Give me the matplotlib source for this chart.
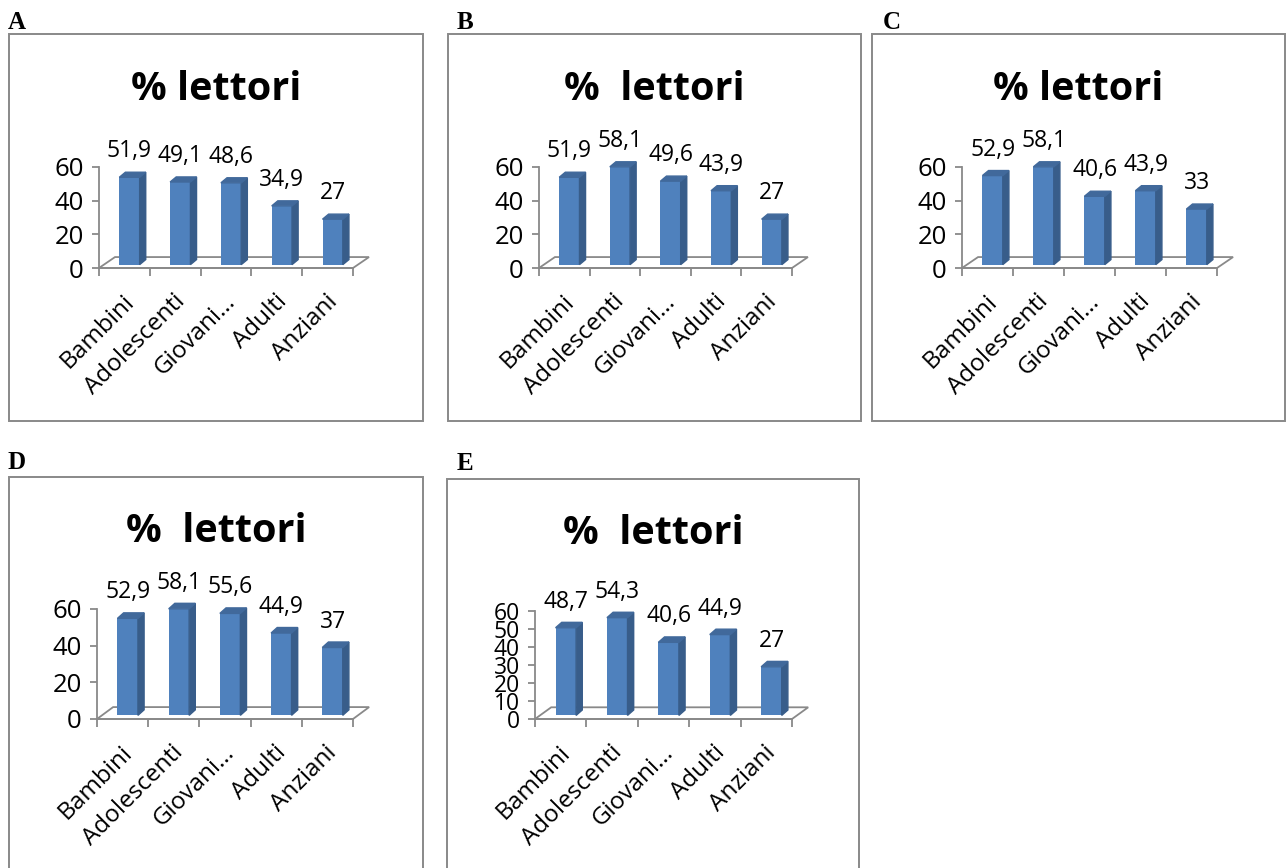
import matplotlib
matplotlib.use("Agg")
import matplotlib.pyplot as plt
from matplotlib.patches import Rectangle, Polygon

W, H = 1287, 868
plt.rcParams['font.family'] = ['Open Sans', 'DejaVu Sans']

# data
categories = ["Bambini", "Adolescenti", "Giovani…", "Adulti", "Anziani"]
vals_a = [51.9, 49.1, 48.6, 34.9, 27]
vals_b = [51.9, 58.1, 49.6, 43.9, 27]
vals_c = [52.9, 58.1, 40.6, 43.9, 33]
vals_d = [52.9, 58.1, 55.6, 44.9, 37]
vals_e = [48.7, 54.3, 40.6, 44.9, 27]
ticks_std = [0, 20, 40, 60]
ticks_e = [0, 10, 20, 30, 40, 50, 60]
panel_letters = ["A", "B", "C", "D", "E"]
titles = ["% lettori", "%  lettori", "% lettori", "%  lettori", "%  lettori"]

# layout in pixels: box (x0, y0, x1, y1), plot (left, right, y60, y0), title baseline, letter pos
layout = [
    ((9, 34, 423, 421), (99, 353, 167, 268), 100, (8, 29)),
    ((448, 34, 861, 421), (539, 792, 167, 268), 100, (457, 29)),
    ((872, 34, 1285, 421), (962, 1217, 167, 268), 100, (883, 29)),
    ((9, 477, 423, 900), (97, 353, 609, 719), 542, (8, 469)),
    ((447, 479, 859, 900), (535, 792, 611, 719), 544, (457, 470)),
]
values = [vals_a, vals_b, vals_c, vals_d, vals_e]
yticks = [ticks_std, ticks_std, ticks_std, ticks_std, ticks_e]
ytick_size = [18.5, 18.5, 18.5, 18.5, 16.5]

gray = '#898989'
front = '#4F81BD'
side = '#385D8A'
top = '#41699B'
dx, dy = 0.315, 6.5      # floor depth
lift = 2.0               # bars stand a bit behind the front edge
sx, sy = 0.12, 3.0       # bar depth

fig = plt.figure(figsize=(W / 100, H / 100), dpi=100)

for k, (letter, title, vals, yt) in enumerate(zip(panel_letters, titles, values, yticks)):
    box, plot, ty, lpos = layout[k]
    x0, y0, x1, y1 = box
    fig.add_artist(Rectangle((x0 / W, 1 - y1 / H), (x1 - x0) / W, (y1 - y0) / H,
                             transform=fig.transFigure, fill=False, ec=gray, lw=1.4))
    fig.text(lpos[0] / W, 1 - lpos[1] / H, letter, family='Liberation Serif',
             fontweight='bold', fontsize=18, va='baseline', ha='left')
    fig.text((x0 + x1) / 2 / W, 1 - ty / H, title, fontweight='bold', fontsize=28.5,
             ha='center', va='baseline')

    pl, pr, p60, p0 = plot
    ax = fig.add_axes([pl / W, 1 - p0 / H, (pr - pl) / W, (p0 - p60) / H])
    ax.set_xlim(0, 5)
    ax.set_ylim(0, 60)
    ax.patch.set_visible(False)
    for s in ['top', 'right']:
        ax.spines[s].set_visible(False)
    for s in ['left', 'bottom']:
        ax.spines[s].set_color(gray)
        ax.spines[s].set_linewidth(1.3)
    ax.spines['left'].set_bounds(0, 60)
    ax.spines['bottom'].set_bounds(0, 5)
    ax.set_yticks(yt)
    ax.set_yticklabels([str(t) for t in yt])
    ax.set_xticks(range(6))
    ax.set_xticklabels([])
    ax.tick_params(axis='y', length=5, width=1.3, color=gray, pad=6, labelsize=ytick_size[k])
    ax.tick_params(axis='x', length=6, width=1.3, color=gray)

    ax.add_patch(Polygon([(0, 0), (5, 0), (5 + dx, dy), (dx, dy)], closed=True,
                         fill=False, ec=gray, lw=1.3, clip_on=False))

    for i, v in enumerate(vals):
        xl = i + 0.4
        xr = xl + 0.4
        ax.bar(xl, v, bottom=lift, width=0.4, align='edge', color=front, zorder=3, clip_on=False)
        ax.fill([xr, xr + sx, xr + sx, xr], [lift, lift + sy, v + lift + sy, v + lift],
                color=side, zorder=3, clip_on=False)
        ax.fill([xl, xr, xr + sx, xl + sx], [v + lift, v + lift, v + lift + sy, v + lift + sy],
                color=top, zorder=3, clip_on=False)
        ax.annotate(f"{v:g}".replace(".", ","), (i + 0.6, v + lift), xytext=(0, 14.4),
                    textcoords='offset points', ha='center', va='baseline', fontsize=16.5)
        ax.annotate(categories[i], (i + 0.5, 0), xytext=(4.5, -21.5),
                    textcoords='offset points', rotation=45, rotation_mode='anchor',
                    ha='right', va='center', fontsize=17.5)

fig.savefig("out.png", dpi=100)
